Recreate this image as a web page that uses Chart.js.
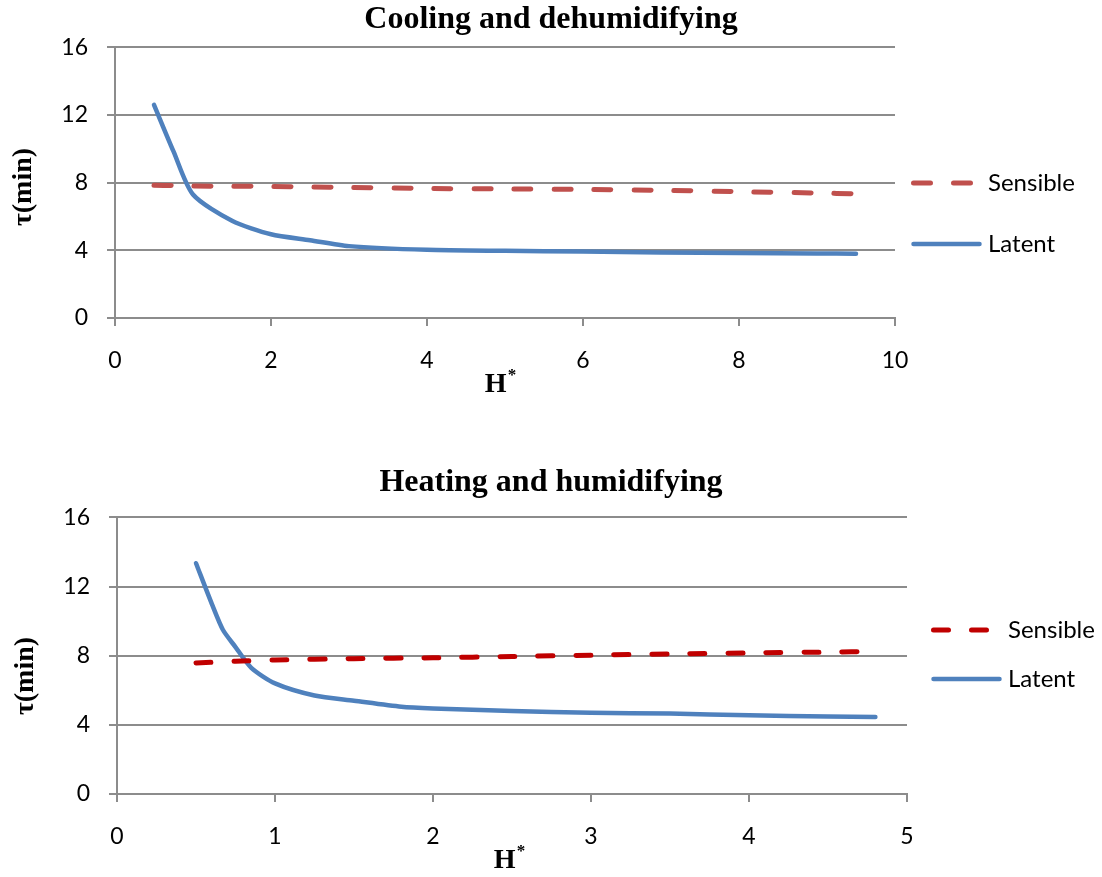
<!DOCTYPE html>
<html>
<head>
<meta charset="utf-8">
<title>Time constants - sensible and latent</title>
<script src="https://cdn.jsdelivr.net/npm/chart.js@4.4.0/dist/chart.umd.min.js"></script>
<style>
  body { margin: 0; background: #fff; }
  canvas { position: absolute; left: 0; }
  #coolChart { top: 0; }
  #heatChart { top: 440px; }
</style>
</head>
<body>
<canvas id="coolChart" width="1102" height="410"></canvas>
<canvas id="heatChart" width="1102" height="437"></canvas>
<script>
// Cooling and dehumidifying
var coolH = [0.5, 0.75, 1, 1.5, 2, 2.5, 3, 4, 5, 6, 7, 8, 9, 9.5];
var coolSensible = [7.85, 7.83, 7.8, 7.79, 7.78, 7.75, 7.72, 7.66, 7.63, 7.6, 7.55, 7.47, 7.39, 7.34];
var coolLatent = [12.6, 9.85, 7.3, 5.75, 4.95, 4.6, 4.25, 4.03, 3.97, 3.93, 3.88, 3.85, 3.82, 3.8];

// Heating and humidifying
var heatH = [0.5, 0.6, 0.67, 0.75, 0.85, 1, 1.25, 1.5, 1.8, 2, 2.5, 3, 3.5, 4, 4.5, 4.8];
var heatLatent = [13.35, 11.0, 9.5, 8.5, 7.3, 6.4, 5.7, 5.4, 5.05, 4.95, 4.8, 4.7, 4.65, 4.55, 4.48, 4.46];
var heatSensH = [0.5, 0.75, 1, 1.5, 2, 2.5, 3, 3.5, 4, 4.5, 4.8];
var heatSensible = [7.58, 7.68, 7.75, 7.83, 7.88, 7.95, 8.03, 8.1, 8.16, 8.21, 8.25];

var seriesNames = ['Sensible', 'Latent'];
var yMax = 16, yStep = 4;
var coolXMax = 10, coolXStep = 2;
var heatXMax = 5, heatXStep = 1;

var gridColor = '#8c8c8c';
var tickFont = { family: 'Lato', size: 23 };

function pares(xs, ys) {
  return xs.map(function (x, i) { return { x: x, y: ys[i] }; });
}

// legend drawn at the right side, using each dataset's own line style
var legendaLateral = {
  id: 'legendaLateral',
  afterDraw: function (chart, args, opts) {
    var ctx = chart.ctx;
    chart.data.datasets.forEach(function (ds, i) {
      var y = opts.ys[i];
      ctx.save();
      ctx.strokeStyle = ds.borderColor;
      ctx.lineWidth = ds.borderWidth;
      ctx.lineCap = 'round';
      ctx.setLineDash(ds.borderDash || []);
      ctx.beginPath();
      ctx.moveTo(opts.x, y);
      ctx.lineTo(opts.x + opts.len, y);
      ctx.stroke();
      ctx.setLineDash([]);
      ctx.fillStyle = '#000';
      ctx.font = '24px Lato';
      ctx.textBaseline = 'middle';
      ctx.fillText(ds.label, opts.textX, y);
      ctx.restore();
    });
  }
};

// axis titles: rotated tau(min) and H with superscript star
var titulosEixos = {
  id: 'titulosEixos',
  afterDraw: function (chart, args, opts) {
    var ctx = chart.ctx;
    var area = chart.chartArea;
    ctx.save();
    ctx.fillStyle = '#000';
    ctx.font = 'bold 28px "Liberation Serif"';
    ctx.textAlign = 'center';
    ctx.textBaseline = 'middle';
    ctx.translate(opts.yTitleX, opts.yTitleY);
    ctx.rotate(-Math.PI / 2);
    ctx.fillText('\u03c4(min)', 0, 0);
    ctx.restore();

    ctx.save();
    ctx.fillStyle = '#000';
    ctx.textBaseline = 'alphabetic';
    ctx.font = 'bold 28px "Liberation Serif"';
    var wH = ctx.measureText('H').width;
    ctx.font = 'bold 17px "Liberation Serif"';
    var wS = ctx.measureText('*').width;
    var x0 = (area.left + area.right) / 2 + opts.xShift - (wH + wS) / 2;
    ctx.font = 'bold 28px "Liberation Serif"';
    ctx.fillText('H', x0, opts.xTitleBase);
    ctx.font = 'bold 17px "Liberation Serif"';
    ctx.fillText('*', x0 + wH + 1, opts.xTitleBase - 12);
    ctx.restore();
  }
};

function montarGrafico(id, titulo, dados, cores, xMax, xStep, caixa) {
  var ctx = document.getElementById(id).getContext('2d');
  return new Chart(ctx, {
    type: 'line',
    data: {
      datasets: [{
        label: seriesNames[0],
        data: dados[0],
        borderColor: cores[0],
        borderWidth: 5,
        borderDash: caixa.dash,
        borderCapStyle: 'round',
        pointRadius: 0,
        tension: 0.25,
        fill: false
      }, {
        label: seriesNames[1],
        data: dados[1],
        borderColor: cores[1],
        borderWidth: 4.5,
        borderCapStyle: 'round',
        borderJoinStyle: 'round',
        pointRadius: 0,
        tension: 0.25,
        fill: false
      }]
    },
    options: {
      responsive: false,
      animation: false,
      plugins: {
        legend: { display: false },
        tooltip: { enabled: false },
        title: {
          display: true,
          text: titulo,
          color: '#000',
          font: { family: 'Liberation Serif', size: 32, weight: 'bold' },
          padding: caixa.titlePad
        },
        legendaLateral: caixa.legend,
        titulosEixos: caixa.titles
      },
      scales: {
        x: {
          type: 'linear',
          min: 0,
          max: xMax,
          afterFit: function (scale) { scale.height = caixa.xHeight; },
          ticks: { stepSize: xStep, color: '#000', font: tickFont, padding: 21, maxRotation: 0 },
          grid: { drawOnChartArea: false, drawTicks: true, tickLength: 8, color: gridColor, lineWidth: 2 },
          border: { display: true, color: gridColor, width: 2 }
        },
        y: {
          min: 0,
          max: yMax,
          afterFit: function (scale) { scale.width = caixa.yWidth; },
          ticks: { stepSize: yStep, color: '#000', font: tickFont, padding: 19 },
          grid: { color: gridColor, lineWidth: 2, tickLength: 8 },
          border: { display: true, color: gridColor, width: 2 }
        },
        // empty right-hand axis: only reserves room for the legend
        espaco: {
          position: 'right',
          min: 0,
          max: yMax,
          afterFit: function (scale) { scale.width = caixa.right; },
          ticks: { display: false },
          grid: { display: false },
          border: { display: false }
        }
      }
    },
    plugins: [legendaLateral, titulosEixos]
  });
}

montarGrafico('coolChart', 'Cooling and dehumidifying',
  [pares(coolH, coolSensible), pares(coolH, coolLatent)],
  ['#C0504D', '#4F81BD'], coolXMax, coolXStep, {
    right: 207, yWidth: 115, xHeight: 92, dash: [17, 23],
    titlePad: { top: 1, bottom: 8 },
    legend: { x: 913.5, len: 66, textX: 988, ys: [183, 244] },
    titles: { yTitleX: 24, yTitleY: 187, xTitleBase: 392, xShift: -5 }
  });

montarGrafico('heatChart', 'Heating and humidifying',
  [pares(heatSensH, heatSensible), pares(heatH, heatLatent)],
  ['#C00000', '#4F81BD'], heatXMax, heatXStep, {
    right: 195, yWidth: 117, xHeight: 83, dash: [15, 23],
    titlePad: { top: 24, bottom: 15 },
    legend: { x: 933.5, len: 66, textX: 1008, ys: [190, 239] },
    titles: { yTitleX: 26, yTitleY: 236, xTitleBase: 428, xShift: -3 }
  });
</script>
</body>
</html>
